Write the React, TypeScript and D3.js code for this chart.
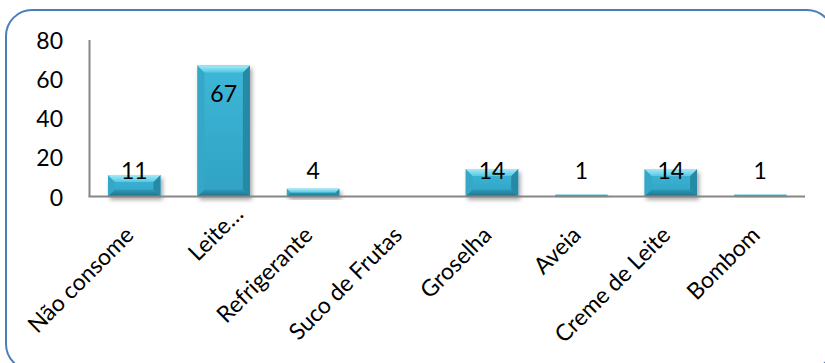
import React from "react";
import * as d3 from "d3";

const categories = ["Não consome", "Leite…", "Refrigerante", "Suco de Frutas", "Groselha", "Aveia", "Creme de Leite", "Bombom"];
const values = [11, 67, 4, 0, 14, 1, 14, 1];
const yTicks = [0, 20, 40, 60, 80];

const W = 825;
const H = 363;
const FONT = "Lato, 'Open Sans', sans-serif";

export default function App() {
  const x0 = 89.5, x1 = 805, yBase = 196.5, yTop = 40;
  const x = d3.scaleBand<string>().domain(categories).range([x0, x1]).paddingInner(0.413).paddingOuter(0.2065);
  const y = d3.scaleLinear().domain([0, 80]).range([yBase, yTop]);
  const bw = x.bandwidth();

  return (
    <svg width={W} height={H} style={{ position: "absolute", left: 0, top: 0 }} fontFamily={FONT}>
      <defs>
        <filter id="shadow" x="-20%" y="-20%" width="140%" height="160%">
          <feDropShadow dx="2" dy="3" stdDeviation="2" floodColor="#000" floodOpacity="0.35" />
        </filter>
        <linearGradient id="face" x1="0" y1="0" x2="0" y2="1">
          <stop offset="0" stopColor="#3EB7D8" />
          <stop offset="1" stopColor="#30A2C3" />
        </linearGradient>
        <linearGradient id="topBevel" x1="0" y1="0" x2="0" y2="1">
          <stop offset="0" stopColor="#A6EAF8" />
          <stop offset="1" stopColor="#55C8E4" />
        </linearGradient>
        <linearGradient id="botBevel" x1="0" y1="0" x2="0" y2="1">
          <stop offset="0" stopColor="#2E9BBA" />
          <stop offset="1" stopColor="#216F86" />
        </linearGradient>
      </defs>
      <rect x={0} y={0} width={W} height={H} fill="#fff" />
      <rect x={6} y={10} width={827} height={360} rx={26} ry={26} fill="none" stroke="#4A7EBB" strokeWidth={2} />

      {/* bars */}
      {categories.map((c, i) => {
        const v = values[i];
        if (v <= 0) return null;
        const bx0 = x(c)!;
        const bx1 = bx0 + bw;
        const yt = y(v);
        const yb = yBase;
        const h = yb - yt;
        const b = Math.min(7, h / 2);
        return (
          <g key={c} filter="url(#shadow)">
            <rect x={bx0} y={yt} width={bw} height={h} fill="url(#face)" />
            {h > 3 && (
              <g>
                <polygon points={`${bx0},${yt} ${bx0 + b},${yt + b} ${bx0 + b},${yb - b} ${bx0},${yb}`} fill="#34A8C8" />
                <polygon points={`${bx1},${yt} ${bx1},${yb} ${bx1 - b},${yb - b} ${bx1 - b},${yt + b}`} fill="#2789A6" />
                <polygon points={`${bx0},${yb} ${bx0 + b},${yb - b} ${bx1 - b},${yb - b} ${bx1},${yb}`} fill="url(#botBevel)" />
                <polygon points={`${bx0},${yt} ${bx1},${yt} ${bx1 - b},${yt + b} ${bx0 + b},${yt + b}`} fill="url(#topBevel)" />
              </g>
            )}
          </g>
        );
      })}

      {/* axes */}
      <line x1={x0} y1={yTop} x2={x0} y2={yBase} stroke="#868686" strokeWidth={2} />
      <line x1={x0 - 1} y1={yBase} x2={x1} y2={yBase} stroke="#868686" strokeWidth={2} />

      {yTicks.map((t) => (
        <text key={t} x={63} y={y(t)} textAnchor="end" dominantBaseline="central" fontSize={23} fill="#000">
          {t}
        </text>
      ))}

      {/* value labels */}
      {categories.map((c, i) => {
        const v = values[i];
        if (v <= 0) return null;
        const cx = x(c)! + bw / 2;
        const inside = yBase - y(v) > 60;
        const ly = inside ? y(v) + 37 : yBase - 18;
        return (
          <text key={c} x={cx} y={ly} textAnchor="middle" fontSize={23} fill="#000">
            {v}
          </text>
        );
      })}

      {/* category labels */}
      {categories.map((c) => {
        const cx = x(c)! + bw / 2;
        const truncated = c.endsWith("…");
        let ax = cx + 1;
        let ay = yBase + 40;
        if (truncated) {
          ax += 20;
          ay -= 21;
        }
        return (
          <text key={c} x={ax} y={ay} textAnchor="end" fontSize={23} fill="#000" transform={`rotate(-45 ${ax} ${ay})`}>
            {c}
          </text>
        );
      })}
    </svg>
  );
}
